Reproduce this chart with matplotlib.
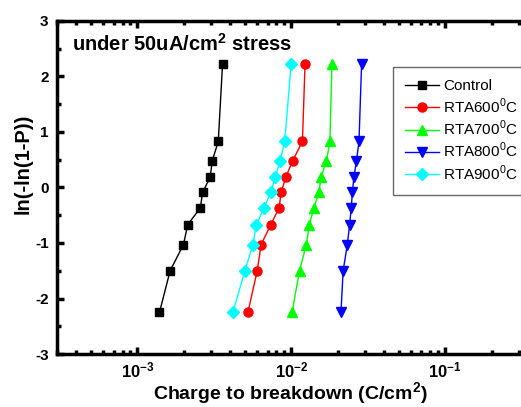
import numpy as np
import matplotlib
matplotlib.use('Agg')
import matplotlib.pyplot as plt
from matplotlib.ticker import LogLocator, MultipleLocator, NullFormatter

plt.rcParams['font.family'] = 'Liberation Sans'
plt.rcParams['mathtext.fontset'] = 'custom'
plt.rcParams['mathtext.rm'] = 'Liberation Sans'
plt.rcParams['mathtext.bf'] = 'Liberation Sans:bold'

# Weibull plotting positions (same for every sample)
weibull_y = [-2.25, -1.50, -1.03, -0.67, -0.37, -0.09, 0.19, 0.48, 0.83, 2.22]

# charge to breakdown, C/cm^2
qbd_control = [1.39e-3, 1.63e-3, 1.99e-3, 2.12e-3, 2.56e-3, 2.65e-3, 2.97e-3, 3.06e-3, 3.35e-3, 3.57e-3]
qbd_rta600 = [5.22e-3, 6.00e-3, 6.36e-3, 7.35e-3, 8.32e-3, 8.58e-3, 9.20e-3, 1.02e-2, 1.18e-2, 1.227e-2]
qbd_rta700 = [1.01e-2, 1.13e-2, 1.25e-2, 1.31e-2, 1.40e-2, 1.51e-2, 1.56e-2, 1.69e-2, 1.78e-2, 1.835e-2]
qbd_rta800 = [2.10e-2, 2.17e-2, 2.31e-2, 2.39e-2, 2.45e-2, 2.49e-2, 2.55e-2, 2.65e-2, 2.75e-2, 2.86e-2]
qbd_rta900 = [4.17e-3, 4.99e-3, 5.62e-3, 5.93e-3, 6.62e-3, 7.35e-3, 7.84e-3, 8.45e-3, 9.06e-3, 9.96e-3]

labels = ['Control', 'RTA600$^{0}$C', 'RTA700$^{0}$C', 'RTA800$^{0}$C', 'RTA900$^{0}$C']
series = [qbd_control, qbd_rta600, qbd_rta700, qbd_rta800, qbd_rta900]
colors = ['black', '#ff0000', '#00ff00', '#0000ff', '#00ffff']
markers = ['s', 'o', '^', 'v', 'D']
msizes = [6, 6.5, 7, 7, 6]

W, H = 521, 407
fig = plt.figure(figsize=(W / 100, H / 100), dpi=100)
ax = fig.add_axes([57 / W, 1 - 354 / H, (523 - 57) / W, (354 - 21) / H])

for q, lab, c, m, ms in zip(series, labels, colors, markers, msizes):
    ax.plot(q, weibull_y, color=c, marker=m, markersize=ms, lw=1, label=lab,
            markeredgecolor=c, clip_on=False)

ax.set_xscale('log')
ax.set_xlim(3e-4, 0.32)
ax.set_ylim(-3, 3)

# axes styling
for s in ax.spines.values():
    s.set_linewidth(2.5)
ax.xaxis.set_minor_locator(LogLocator(base=10, subs=np.arange(2, 10), numticks=20))
ax.xaxis.set_minor_formatter(NullFormatter())
ax.yaxis.set_minor_locator(MultipleLocator(0.5))
ax.tick_params(which='both', direction='in', top=True, right=False)
ax.tick_params(which='major', length=5, width=2.5)
ax.tick_params(which='minor', length=3, width=2.5)
ax.tick_params(axis='y', which='major', pad=6)
ax.tick_params(axis='x', which='major', pad=5)

ax.set_xticks([1e-3, 1e-2, 1e-1])
ax.set_xticklabels([r'$\mathbf{10^{-3}}$', r'$\mathbf{10^{-2}}$', r'$\mathbf{10^{-1}}$'], fontsize=12)
ax.set_yticks([-3, -2, -1, 0, 1, 2, 3])
ax.set_yticklabels(['-3', '-2', '-1', '0', '1', '2', '3'], fontsize=11, fontweight='bold')

ax.set_xlabel('Charge to breakdown (C/cm$^\\mathbf{2}$)', fontsize=14, fontweight='bold')
ax.xaxis.set_label_coords(0.5, -0.08)
ax.set_ylabel('ln(-ln(1-P))', fontsize=14.5, fontweight='bold')
ax.yaxis.set_label_coords(-0.053, 0.57)

ax.text(0.032, 0.93, 'under 50uA/cm$^\\mathbf{2}$ stress', transform=ax.transAxes,
        fontsize=14.5, fontweight='bold', va='center', ha='left')

leg = fig.legend(loc='upper left', bbox_to_anchor=(393 / W, 1 - 67 / H),
                 bbox_transform=fig.transFigure, borderaxespad=0, fontsize=11,
                 frameon=True, fancybox=False, edgecolor='#444444',
                 handlelength=2.2, labelspacing=0.2, borderpad=0.8,
                 handletextpad=0.3)
leg.get_frame().set_linewidth(1)

fig.savefig('out.png', dpi=100)
